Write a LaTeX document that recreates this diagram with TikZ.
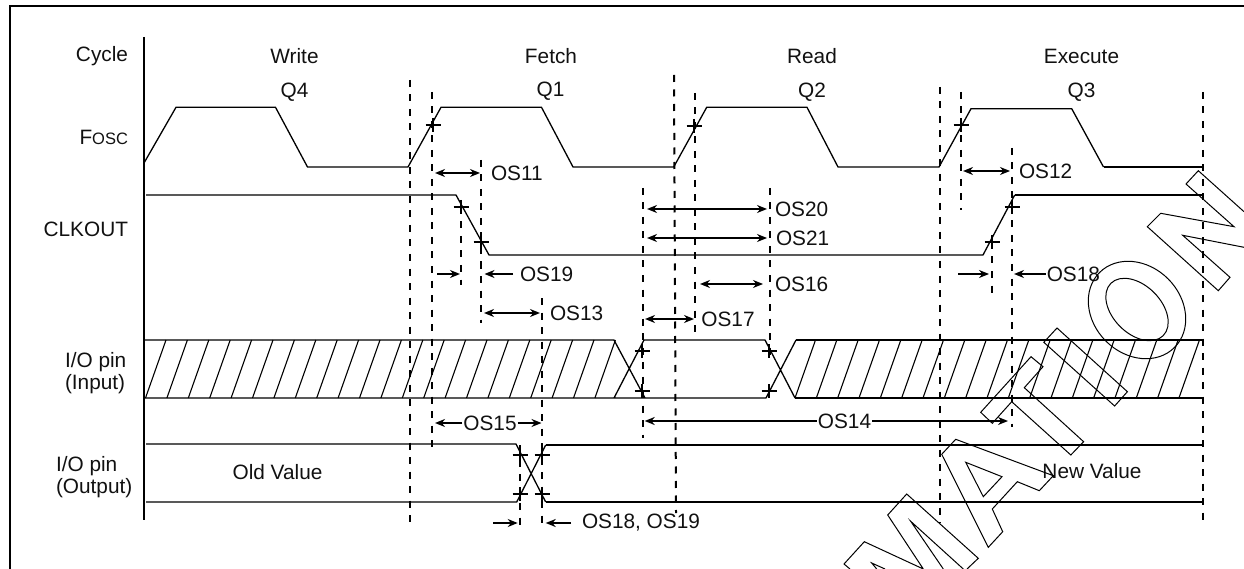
\documentclass[tikz,border=0pt]{standalone}
\usepackage{fontspec}
\setmainfont{Liberation Sans}
\usepackage{xcolor}
\usetikzlibrary{calc,arrows.meta}
\definecolor{inkc}{HTML}{111111}
\tikzset{
  wv/.style={line width=1.3pt,black,line join=miter},
  wvb/.style={line width=2pt,black},
  ht/.style={line width=1.1pt,black},
  dsh/.style={line width=2pt,black,dash pattern=on 7pt off 7.5pt},
  tk/.style={line width=1.7pt,black},
  dm/.style={{Stealth[length=10pt,width=8pt]}-{Stealth[length=10pt,width=8pt]},line width=1.7pt,black},
  ra/.style={-{Stealth[length=10pt,width=8pt]},line width=1.7pt,black},
  wm/.style={line width=1pt,black,line join=miter},
  lb/.style={font=\fontsize{20.8}{22}\selectfont,text=inkc,inner sep=0pt,outer sep=1pt}
}
\begin{document}
\begin{tikzpicture}[x=1pt,y=-1pt]
\useasboundingbox (0,0) rectangle (1244,569);
% frame and time axis
\draw[line width=2pt] (1244,6)--(10,6)--(10,569);
\draw[line width=1.8pt] (144,37)--(144,520);
% row labels
\node[lb,anchor=east] (cyc) at (129,56) {Cycle};
\node[lb,anchor=east] (fo) at (129,137) {F{\fontsize{16.5}{18}\selectfont OSC}};
\node[lb,anchor=east] (clk) at (129,229) {CLKOUT};
\node[lb,anchor=north west,align=left] (ioi) at (64,351) {I/O pin\\(Input)};
\node[lb,anchor=north west,align=left] (ioo) at (55,455) {I/O pin\\(Output)};
% cycle names
\foreach \nm/\xx/\yy/\tx in {wr/294.5/56/Write,fe/551/56/Fetch,re/812/56/Read,ex/1081.5/56/Execute,
 qa/294.5/92/Q4,qb/550.5/91/Q1,qc/812/92/Q2,qd/1081.5/92/Q3}{
 \node[lb] (\nm) at (\xx,\yy) {\tx};}
\node[lb] (ov) at (277.5,472) {Old Value};
\node[lb] (nv) at (1092,471) {New Value};
% guide lines
\foreach \xx/\ya/\yb in {410/80/522,432/92/448,481/160/323,461/207/285,542/298/530,520/445/531,
 643/188/438,770/188/357,695/93/332,940/87/523,961/92/210,1012/148/427,992/242/295,1203/92/525}{
 \draw[dsh] (\xx,\ya)--(\xx,\yb);}
\draw[dsh] (674,75)--(676,513);
% clock
\draw[wv] (144,163)--(176,107.3)--(275.5,107.3)--(307.5,167)--(408,167)--(441,107.3)--(541.5,107.3)--(573,167)
 --(673.7,167)--(706.7,107.3)--(807,107.3)--(838,167)--(939,167)--(971,108.7)--(1071.7,108.7)--(1103.5,167);
\draw[wvb] (1103.5,167)--(1203,167);
\draw[wv] (146,195)--(456,195)--(489,255)--(983,255)--(1014.7,195);
\draw[wvb] (1014.7,195)--(1203,195);
% input band
\draw[wv] (145,340)--(614,340)--(645,398)--(614,398)--(145,398) (614,398)--(644,340)--(765,340)--(795,398) (645,398)--(766,398)--(796,340);
\draw[wvb] (796,340)--(1203,340) (795,398)--(1203,398);
\foreach \k in {0,...,21}{\draw[ht] ({145.5+21.4*\k},398)--({166+21.4*\k},340);}
\foreach \k in {0,...,18}{\draw[ht] ({795+21.33*\k},398)--({815.5+21.33*\k},340);}
% output band
\draw[wv] (146,444)--(516,444)--(545.7,502) (146,502)--(516.7,502)--(545.7,445);
\draw[wvb] (545.7,445)--(1203,445) (545.7,502)--(1203,502);
% crossing marks
\foreach \cx/\cy in {433/125,694/126,961/125,461/207,481/242,992/242,1012/207,
 642/351,642/391,769/351,769/391,520/455,542/455,520/494,542/494}{
 \draw[tk] (\cx-7.5,\cy)--(\cx+7.5,\cy) (\cx,\cy-7)--(\cx,\cy+7);}
% two headed timings
\foreach \nm/\xa/\xb/\yy/\lx/\tx in {oa/435/480/173/490/OS11,ob/484/540/313/549/OS13,oc/963/1010/171/1018/OS12,
 od/647/767/209/774/OS20,oe/647/767/238/775/OS21,of/700/763/284/774/OS16,og/645/694/319/700.4/OS17}{
 \node[lb,anchor=west] (\nm) at (\lx,\yy) {\tx};
 \draw[dm] (\xa,\yy)--(\xb,\yy);}
% outside arrows
\coordinate (sa) at (437,274); \coordinate (sb) at (460,274); \coordinate (sc) at (484.5,274);
\node[lb,anchor=west] (oh) at (519,274) {OS19};
\draw[ra] (sa)--(sb);
\draw[ra] ($(oh.west)+(-6,0)$)--(sc);
\coordinate (ta) at (958,274); \coordinate (tb) at (989,274); \coordinate (tc) at (1014,274);
\node[lb,anchor=west] (oi) at (1045.8,274) {OS18};
\draw[ra] (ta)--(tb);
\draw[ra] (oi.west)--(tc);
\coordinate (ua) at (493,523); \coordinate (ub) at (517.7,523); \coordinate (uc) at (545.7,523);
\node[lb,anchor=west] (oj) at (581,523) {OS18, OS19};
\draw[ra] (ua)--(ub);
\draw[ra] ($(oj.west)+(-10,0)$)--(uc);
% labels sitting on the line
\coordinate (va) at (435,423); \coordinate (vb) at (541.5,423);
\node[lb] (ok) at (490,423) {OS15};
\draw[ra] (ok.west)--(va);
\draw[ra] (ok.east)--(vb);
\coordinate (wa) at (644.7,421); \coordinate (wb) at (1008,421);
\node[lb] (ol) at (844.5,421) {OS14};
\draw[ra] (ol.west)--(wa);
\draw[ra] (ol.east)--(wb);
% outline letters
\draw[wm] (923.3,569)--(887.7,515)--(906.7,494)--(978.3,558.3)--(967,569)
 (943.3,569)--(910.7,521.3)--(963.3,569)
 (850,569)--(844,564)--(864.3,541.7)--(923.3,569)
 (876.7,569)--(871.7,563)--(885,569);
\draw[wm] (955.7,439.3)--(941.7,454.3)--(988.3,547.3)--(1002.7,531.7)--(992.3,509)--(1017.3,481.7)--(1039.3,490.7)--(1053.3,475.7)--cycle;
\draw[wm] (965.7,462.3)--(1002,476.7)--(983.3,496.7)--cycle;
\draw[wm] (1031,356.7)--(1043,366.7)--(1024.3,387.7)--(1083.6,441.7)--(1070.8,455)--(1011.7,401.7)--(992.3,423.3)--(980.7,412.3)--cycle;
\draw[wm] (1057,328)--(1043.8,342.3)--(1114.6,406)--(1127.4,391.7)--cycle;
\draw[wm,shift={(1137,310)},rotate=-45] (0,0) ellipse [x radius=53,y radius=44];
\draw[wm,shift={(1137,309.5)},rotate=-45] (0,0) ellipse [x radius=37,y radius=24];
\draw[wm] (1244,211.7)--(1198.3,170.7)--(1186,184)--(1234,226.7)--(1160.7,213.3)--(1147.3,226.7)--(1218.3,290.7)--(1230,277.3)--(1182.7,235.3)--(1244,247.3);
\end{tikzpicture}
\end{document}
